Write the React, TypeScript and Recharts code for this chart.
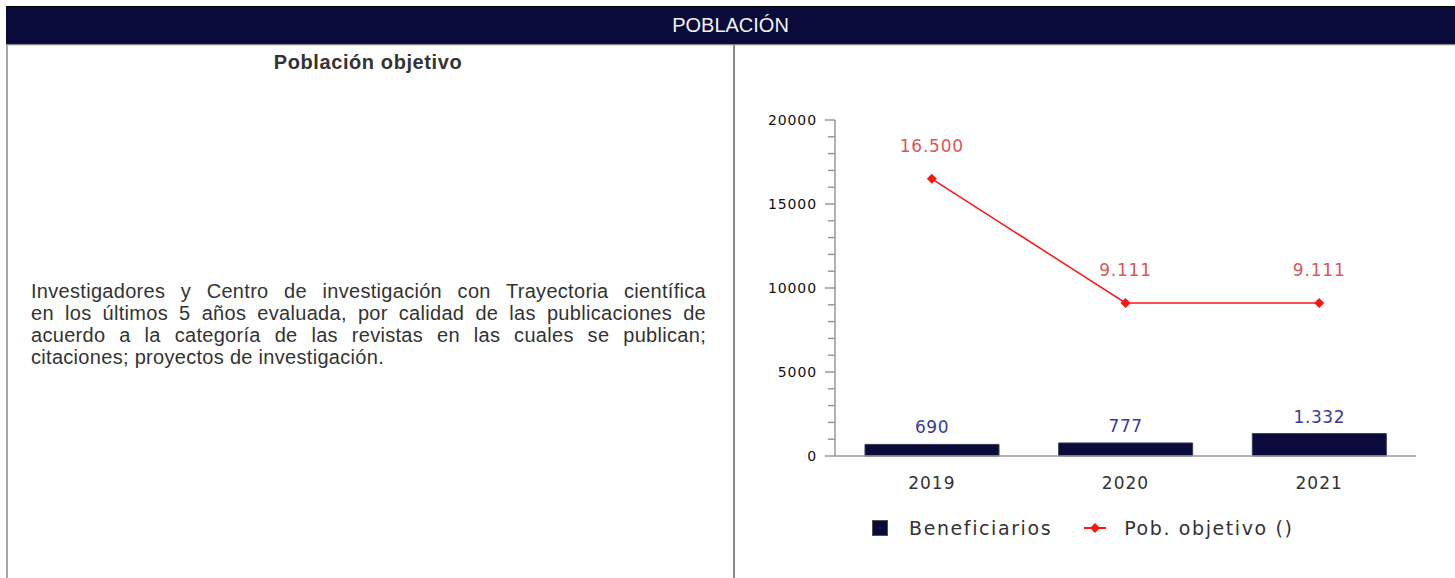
import { ComposedChart, Bar, Line, XAxis, YAxis, Legend, LabelList } from "recharts";

const years = ["2019", "2020", "2021"];
const beneficiarios = [690, 777, 1332];
const poblacionObjetivo = [16500, 9111, 9111];
const yTicks = [0, 5000, 10000, 15000, 20000];
const yMinorTicks = [0, 1000, 2000, 3000, 4000, 5000, 6000, 7000, 8000, 9000, 10000, 11000, 12000, 13000, 14000, 15000, 16000, 17000, 18000, 19000, 20000];

const data = years.map((year, i) => ({
  year,
  beneficiarios: beneficiarios[i],
  objetivo: poblacionObjetivo[i],
}));

const navy = "#0a0b3b";
const red = "#ff1414";
const chartFont = "'DejaVu Sans', Verdana, sans-serif";
const pageFont = "'Liberation Sans', Arial, sans-serif";

const fmt = (v: any) => Number(v).toLocaleString("de-DE");

// tick label sits at axis - (TICK_SIZE + TICK_GAP); lines are drawn back from there
const TICK_SIZE = 10;
const TICK_GAP = 8;

const YTick = (props: any) => {
  const { x, y, payload } = props;
  const axisX = x + TICK_SIZE + TICK_GAP;
  const major = yTicks.includes(payload.value);
  const len = major ? 10 : 7;
  return (
    <g>
      <line x1={axisX - len} y1={y} x2={axisX} y2={y} stroke="#999" strokeWidth={1.5} />
      {major && (
        <text
          x={x}
          y={y}
          dy="0.35em"
          textAnchor="end"
          fontSize={14}
          fill="#111"
          fontFamily={chartFont}
          letterSpacing={0.9}
        >
          {payload.value}
        </text>
      )}
    </g>
  );
};

const Diamond = (props: any) => {
  const { cx, cy } = props;
  if (cx == null || cy == null) return null;
  return <path d={`M${cx},${cy - 5}L${cx + 5},${cy}L${cx},${cy + 5}L${cx - 5},${cy}Z`} fill={red} />;
};

const LegendContent = () => (
  <div style={{ height: 92, position: "relative", fontFamily: chartFont }}>
    <div
      style={{
        position: "absolute",
        top: 31,
        left: 136,
        display: "flex",
        alignItems: "center",
        fontSize: 19,
        letterSpacing: 1.6,
        color: "#333",
      }}
    >
      <span style={{ width: 14, height: 14, background: navy, border: "1px solid #555", marginRight: 21 }} />
      <span>Beneficiarios</span>
      <svg width={22} height={12} style={{ marginLeft: 32, marginRight: 18 }}>
        <line x1={0} y1={6} x2={22} y2={6} stroke={red} strokeWidth={2} />
        <path d="M11,1L16,6L11,11L6,6Z" fill={red} />
      </svg>
      <span>Pob. objetivo ()</span>
    </div>
  </div>
);

const paragraphLines = [
  "Investigadores y Centro de investigación con Trayectoria científica",
  "en los últimos 5 años evaluada, por calidad de las publicaciones de",
  "acuerdo a la categoría de las revistas en las cuales se publican;",
  "citaciones; proyectos de investigación.",
];

export default function App() {
  return (
    <div style={{ position: "absolute", left: 0, top: 0, width: 1455, height: 578, background: "#fff", overflow: "hidden" }}>
      {/* header */}
      <div
        style={{
          position: "absolute",
          left: 6,
          top: 6,
          width: 1449,
          height: 38,
          background: navy,
          borderTop: "1px solid #000",
          boxSizing: "border-box",
          color: "#f2f2f2",
          fontFamily: pageFont,
          fontSize: 20,
          lineHeight: "37px",
          textAlign: "center",
        }}
      >
        POBLACIÓN
      </div>
      <div style={{ position: "absolute", left: 6, top: 44, width: 1449, height: 1, background: "#8a8a8a" }} />
      <div style={{ position: "absolute", left: 6, top: 45, width: 1449, height: 1, background: "#dcdcdc" }} />
      <div style={{ position: "absolute", left: 6, top: 45, width: 2, height: 533, background: "#a8a8a8" }} />
      <div style={{ position: "absolute", left: 733, top: 45, width: 2, height: 533, background: "#8c8c8c" }} />

      {/* left cell */}
      <div
        style={{
          position: "absolute",
          left: 6,
          top: 50,
          width: 724,
          textAlign: "center",
          fontFamily: pageFont,
          fontWeight: "bold",
          fontSize: 20,
          letterSpacing: 0.6,
          lineHeight: "24px",
          color: "#333",
        }}
      >
        Población objetivo
      </div>
      <div
        style={{
          position: "absolute",
          left: 31,
          top: 280,
          width: 675,
          fontFamily: pageFont,
          fontSize: 20,
          letterSpacing: 0.3,
          lineHeight: "22px",
          color: "#333",
        }}
      >
        {paragraphLines.map((line, i) => (
          <div
            key={i}
            style={{
              textAlign: i < paragraphLines.length - 1 ? "justify" : "left",
              textAlignLast: i < paragraphLines.length - 1 ? "justify" : "left",
              whiteSpace: "nowrap",
            }}
          >
            {line}
          </div>
        ))}
      </div>

      {/* chart */}
      <div style={{ position: "absolute", left: 736, top: 47 }}>
        <ComposedChart
          width={719}
          height={531}
          data={data}
          margin={{ top: 73, right: 39, left: 39, bottom: 0 }}
          barCategoryGap={30}
        >
          <YAxis
            yAxisId="left"
            width={60}
            domain={[0, 20000]}
            ticks={yMinorTicks}
            interval={0}
            tickSize={TICK_SIZE}
            tickMargin={TICK_GAP}
            axisLine={{ stroke: "#999", strokeWidth: 1.5 }}
            tickLine={false}
            tick={<YTick />}
          />
          <XAxis
            dataKey="year"
            height={30}
            tickLine={false}
            tickMargin={15}
            axisLine={{ stroke: "#999", strokeWidth: 1.5 }}
            tick={{ fontSize: 17, fill: "#333", fontFamily: chartFont, letterSpacing: 1 }}
          />
          <Legend verticalAlign="bottom" content={<LegendContent />} wrapperStyle={{ left: 0, width: 719 }} />
          <Bar
            yAxisId="left"
            dataKey="beneficiarios"
            name="Beneficiarios"
            fill={navy}
            stroke="#3a3a55"
            strokeWidth={1}
            barSize={134}
            isAnimationActive={false}
          >
            <LabelList
              dataKey="beneficiarios"
              position="top"
              offset={11}
              formatter={fmt}
              style={{ fontSize: 17, fill: "#3a3a9c", fontFamily: chartFont, letterSpacing: 0.6 }}
            />
          </Bar>
          <Line
            yAxisId="left"
            dataKey="objetivo"
            name="Pob. objetivo ()"
            type="linear"
            stroke={red}
            strokeWidth={1.5}
            dot={<Diamond />}
            activeDot={false}
            isAnimationActive={false}
          >
            <LabelList
              dataKey="objetivo"
              position="top"
              offset={27}
              formatter={fmt}
              style={{ fontSize: 17, fill: "#dc5656", fontFamily: chartFont, letterSpacing: 0.8 }}
            />
          </Line>
        </ComposedChart>
      </div>
    </div>
  );
}
